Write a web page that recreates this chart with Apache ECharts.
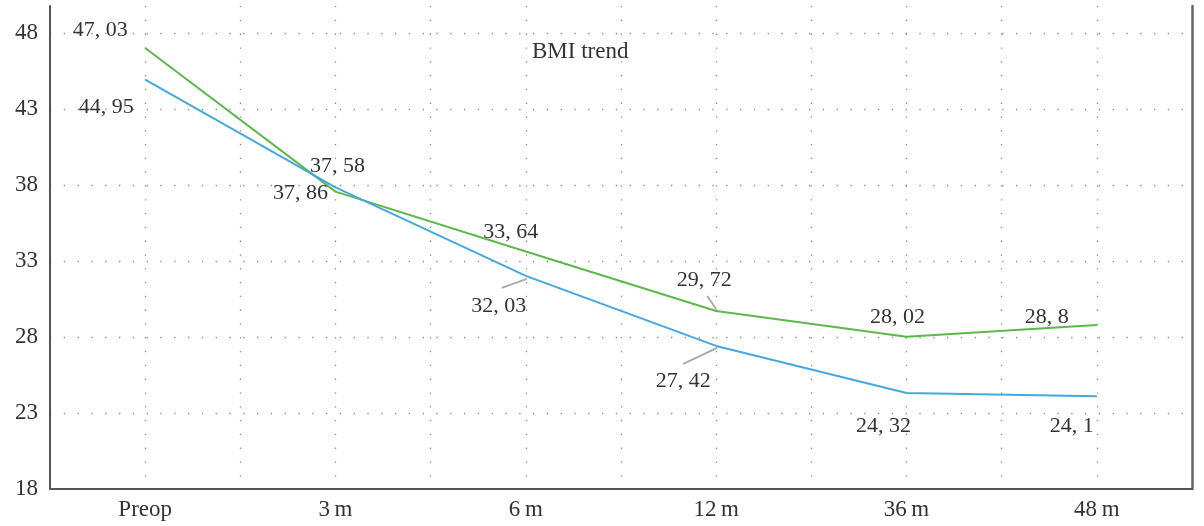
<!DOCTYPE html>
<html>
<head>
<meta charset="utf-8">
<script src="https://cdn.jsdelivr.net/npm/echarts@6/dist/echarts.min.js"></script>
<style>html,body{margin:0;padding:0;background:#fff;}#c{width:1204px;height:526px;}</style>
</head>
<body>
<div id="c"></div>
<script>
const categories = ['Preop', '3\u2009m', '6\u2009m', '12\u2009m', '36\u2009m', '48\u2009m'];
const greenValues = [47.03, 37.58, 33.64, 29.72, 28.02, 28.8];
const blueValues = [44.95, 37.86, 32.03, 27.42, 24.32, 24.1];
const yTicks = [18, 23, 28, 33, 38, 43, 48];

// label placement (layout only, pixel offsets relative to each point)
const greenOffsets = [[-45, -18], [2, -25], [-15, -19], [-12, -31], [-9, -20], [-50, -8]];
const blueOffsets = [[-39, 28], [-35, 6], [-27, 30], [-33, 35], [-23, 33], [-25, 30]];
// leader lines: [fromDx, fromDy, toDx, toDy] in pixels relative to the point, or null
const greenGuides = [null, null, null, [0, -2, -9, -15], null, null];
const blueGuides = [null, null, [1, 3, -24, 12], [1, 2, -33, 18], null, null];

const FONT = '"Liberation Serif", "DejaVu Serif", serif';
const fmt = v => String(v).replace('.', ', ');

function layoutFor(offsets) {
  return function (params) {
    const o = offsets[params.dataIndex];
    return { dx: o[0], dy: o[1] };
  };
}

// leader line items: [categoryIndex, value, seriesKey]
const guideItems = [];
greenGuides.forEach((g, i) => { if (g) guideItems.push([i, greenValues[i], 0]); });
blueGuides.forEach((g, i) => { if (g) guideItems.push([i, blueValues[i], 1]); });

const chart = echarts.init(document.getElementById('c'), null, { renderer: 'canvas' });
const dotted = { color: '#8a8a8a', width: 1.3, type: [1.3, 12.5] };

chart.setOption({
  animation: false,
  backgroundColor: '#fff',
  title: {
    text: 'BMI trend', left: 527, top: 35,
    textStyle: { fontFamily: FONT, fontSize: 23, fontWeight: 'normal', color: '#333' }
  },
  grid: { left: 50, right: 12, top: 6, bottom: 37 },
  xAxis: [
    {
      type: 'category', data: categories, boundaryGap: true,
      axisLine: { show: true, onZero: false, lineStyle: { color: '#555', width: 2 } },
      axisTick: { show: false },
      splitLine: { show: false },
      axisLabel: { fontFamily: FONT, fontSize: 23, color: '#333', margin: 9 }
    },
    {
      type: 'value', min: -0.5, max: 5.5, interval: 0.5, position: 'bottom',
      axisLine: { show: false, onZero: false }, axisTick: { show: false }, axisLabel: { show: false },
      splitLine: { show: true, showMinLine: false, showMaxLine: false, lineStyle: dotted }
    }
  ],
  yAxis: [
    {
      type: 'value', min: 18, max: 49.8, interval: 5, position: 'left',
      axisLine: { show: true, onZero: false, lineStyle: { color: '#555', width: 2 } },
      axisTick: { show: false },
      axisLabel: {
        fontFamily: FONT, fontSize: 23, color: '#333', margin: 12,
        showMaxLabel: false,
        formatter: v => (yTicks.includes(v) ? String(v) : '')
      },
      splitLine: { show: true, showMinLine: false, showMaxLine: false, lineStyle: dotted }
    },
    {
      type: 'value', min: 18, max: 49.8, interval: 5, position: 'right',
      axisLine: { show: true, onZero: false, lineStyle: { color: '#666', width: 2.5 } },
      axisTick: { show: false }, axisLabel: { show: false }, splitLine: { show: false }
    }
  ],
  series: [
    {
      name: 'Series 1', type: 'line', xAxisIndex: 0, yAxisIndex: 0,
      data: greenValues,
      symbol: 'circle', symbolSize: 1, showSymbol: true,
      lineStyle: { color: '#5db84c', width: 2 },
      itemStyle: { color: '#5db84c' },
      label: {
        show: true, position: 'inside', fontFamily: FONT, fontSize: 22, color: '#333',
        formatter: p => fmt(p.value)
      },
      labelLayout: layoutFor(greenOffsets),
      z: 3
    },
    {
      name: 'Series 2', type: 'line', xAxisIndex: 0, yAxisIndex: 0,
      data: blueValues,
      symbol: 'circle', symbolSize: 1, showSymbol: true,
      lineStyle: { color: '#45a8de', width: 2 },
      itemStyle: { color: '#45a8de' },
      label: {
        show: true, position: 'inside', fontFamily: FONT, fontSize: 22, color: '#333',
        formatter: p => fmt(p.value)
      },
      labelLayout: layoutFor(blueOffsets),
      z: 3
    },
    {
      name: 'leaders', type: 'custom', xAxisIndex: 0, yAxisIndex: 0,
      data: guideItems, silent: true, z: 2,
      renderItem: function (params, api) {
        const ci = api.value(0), key = api.value(2);
        const p = api.coord([ci, api.value(1)]);
        const g = (key === 0 ? greenGuides : blueGuides)[ci];
        return {
          type: 'line',
          shape: { x1: p[0] + g[0], y1: p[1] + g[1], x2: p[0] + g[2], y2: p[1] + g[3] },
          style: { stroke: '#aaa', lineWidth: 2 }
        };
      }
    }
  ]
});
</script>
</body>
</html>
